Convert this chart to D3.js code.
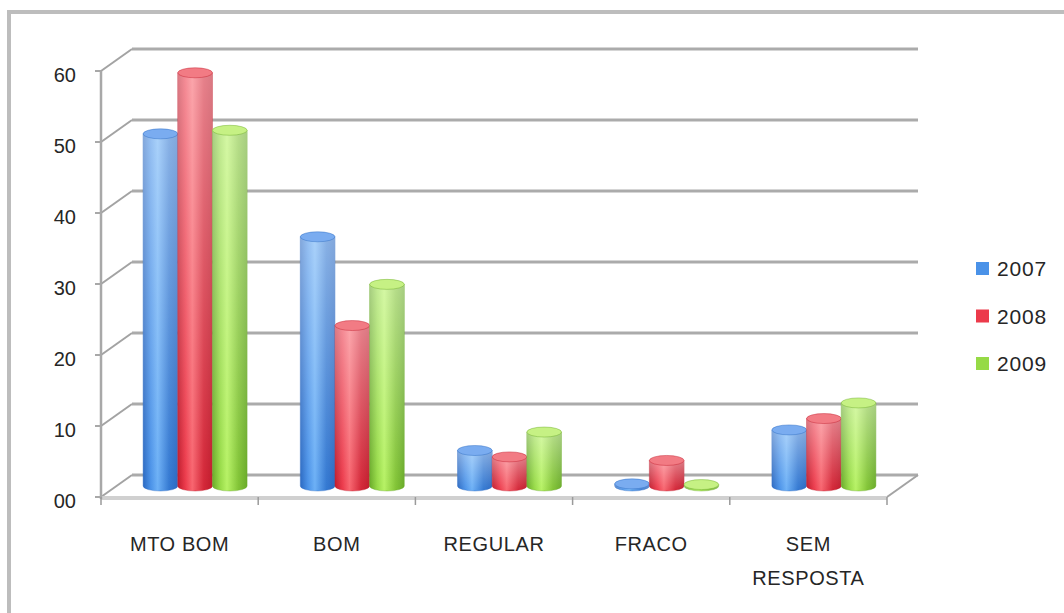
<html><head><title>Avaliação 2007 - 2009</title>
<style>
  body {
    margin: 0;
    background: #fff;
    overflow: hidden;
  }
  svg text {
    font-family: 'Liberation Sans', Arial, sans-serif;
    fill: #262626;
  }
</style>
</head>
<body>
  <svg id="chart" width="1064" height="613"></svg>

  <script src="https://cdnjs.cloudflare.com/ajax/libs/d3/7.8.5/d3.min.js"></script>
  <script>
    // data
    const categories = ['MTO BOM', 'BOM', 'REGULAR', 'FRACO', 'SEM RESPOSTA'];
    const series = ['2007', '2008', '2009'];
    const values2007 = [49.6, 35.1, 5.0, 0.3, 7.9];
    const values2008 = [58.2, 22.6, 4.1, 3.6, 9.5];
    const values2009 = [50.1, 28.4, 7.6, 0.2, 11.7];
    const yTicks = [0, 10, 20, 30, 40, 50, 60];
    const yTickLabels = ['00', '10', '20', '30', '40', '50', '60'];

    const allValues = [values2007, values2008, values2009];

    // colours: [edge, mid, highlight, right side, cap]
    const palette = [
      ['#2a69c2', '#4a92e8', '#6cb0f6', '#3479d2', '#7aacf0'],
      ['#c01b2c', '#ec3a4b', '#f8656f', '#d42738', '#f27b84'],
      ['#69ab28', '#96da46', '#b6f264', '#82c436', '#c6f184']
    ];

    const svg = d3.select('#chart');
    const defs = svg.append('defs');

    // outer frame
    svg.append('rect')
      .attr('x', 9).attr('y', 12)
      .attr('width', 1100).attr('height', 700)
      .attr('fill', 'none')
      .attr('stroke', '#bdbdbd')
      .attr('stroke-width', 4);

    // front plane of the plot + depth offset of the back wall
    const depthX = 31, depthY = -22;
    const y = d3.scaleLinear().domain([0, 60]).range([497, 71]);
    const x0 = d3.scaleBand().domain(categories).range([101, 887]);
    const groupWidth = 104;
    const groupPad = (x0.bandwidth() - groupWidth) / 2;
    const x1 = d3.scaleBand().domain(series).range([0, groupWidth]);

    // back wall gridlines
    const grid = svg.append('g');
    grid.selectAll('line.back')
      .data(yTicks)
      .enter().append('line')
      .attr('x1', 101 + depthX).attr('x2', 887 + depthX)
      .attr('y1', d => y(d) + depthY).attr('y2', d => y(d) + depthY)
      .attr('stroke', '#ababab')
      .attr('stroke-width', 3);

    // side wall diagonals
    grid.selectAll('line.side')
      .data(yTicks)
      .enter().append('line')
      .attr('x1', 101).attr('y1', d => y(d))
      .attr('x2', 101 + depthX).attr('y2', d => y(d) + depthY)
      .attr('stroke', '#a3a3a3')
      .attr('stroke-width', 2);

    // floor right edge
    grid.append('line')
      .attr('x1', 887).attr('y1', y(0))
      .attr('x2', 887 + depthX).attr('y2', y(0) + depthY)
      .attr('stroke', '#a3a3a3')
      .attr('stroke-width', 2);

    // floor front edge
    grid.append('line')
      .attr('x1', 101).attr('x2', 887)
      .attr('y1', y(0) + 1).attr('y2', y(0) + 1)
      .attr('stroke', '#d0d0d0')
      .attr('stroke-width', 4);

    // vertical axis
    grid.append('line')
      .attr('x1', 101).attr('x2', 101)
      .attr('y1', y(60)).attr('y2', y(0) + 2)
      .attr('stroke', '#a8a8a8')
      .attr('stroke-width', 2.5);

    grid.selectAll('line.ytick')
      .data(yTicks)
      .enter().append('line')
      .attr('x1', 95).attr('x2', 101)
      .attr('y1', d => y(d)).attr('y2', d => y(d))
      .attr('stroke', '#a8a8a8')
      .attr('stroke-width', 2);

    // category ticks
    const catEdges = categories.map(c => x0(c)).concat([x0.range()[1]]);
    grid.selectAll('line.xtick')
      .data(catEdges)
      .enter().append('line')
      .attr('x1', d => d).attr('x2', d => d)
      .attr('y1', y(0)).attr('y2', y(0) + 8)
      .attr('stroke', '#9a9a9a')
      .attr('stroke-width', 1.5);

    // y labels
    svg.append('g').selectAll('text')
      .data(yTicks)
      .enter().append('text')
      .attr('x', 76)
      .attr('y', d => y(d) + 6)
      .attr('text-anchor', 'end')
      .attr('dominant-baseline', 'middle')
      .style('font-size', '20px')
      .text((d, i) => yTickLabels[i]);

    // category labels, long ones wrapped on two lines
    const catLabels = svg.append('g').selectAll('text')
      .data(categories)
      .enter().append('text')
      .attr('x', d => x0(d) + x0.bandwidth() / 2)
      .attr('y', 551)
      .attr('text-anchor', 'middle')
      .style('font-size', '20px')
      .style('letter-spacing', '0.6px')
      .text(d => d);

    catLabels.each(function (d) {
      const t = d3.select(this);
      if (this.getComputedTextLength() > 130) {
        const words = d.split(' ');
        t.text(null);
        words.forEach((w, i) => {
          t.append('tspan')
            .attr('x', x0(d) + x0.bandwidth() / 2)
            .attr('dy', i === 0 ? 0 : 34)
            .text(w);
        });
      }
    });

    // gradients
    palette.forEach((p, i) => {
      const g = defs.append('linearGradient')
        .attr('id', 'body' + i)
        .attr('x1', 0).attr('x2', 1).attr('y1', 0).attr('y2', 0);
      g.append('stop').attr('offset', '0%').attr('stop-color', p[0]);
      g.append('stop').attr('offset', '22%').attr('stop-color', p[1]);
      g.append('stop').attr('offset', '42%').attr('stop-color', p[2]);
      g.append('stop').attr('offset', '75%').attr('stop-color', p[3]);
      g.append('stop').attr('offset', '100%').attr('stop-color', p[0]);
    });

    const shine = defs.append('linearGradient')
      .attr('id', 'shine')
      .attr('x1', 0).attr('x2', 0).attr('y1', 0).attr('y2', 1);
    shine.append('stop').attr('offset', '0%').attr('stop-color', '#fff').attr('stop-opacity', 0.42);
    shine.append('stop').attr('offset', '100%').attr('stop-color', '#fff').attr('stop-opacity', 0);

    // cylinders
    const ry = 5;
    const bars = [];
    categories.forEach((c, ci) => {
      series.forEach((s, si) => {
        bars.push({ cat: c, ser: s, si: si, value: allValues[si][ci] });
      });
    });

    const barG = svg.append('g')
      .selectAll('g')
      .data(bars)
      .enter().append('g');

    const geom = d => {
      const xl = x0(d.cat) + groupPad + x1(d.ser) + depthX / 2;
      const w = x1.bandwidth();
      const yb = y(0) + depthY / 2;
      const yt = y(d.value) + depthY / 2;
      return { xl, xr: xl + w, rx: w / 2, yb, yt };
    };

    const bodyPath = d => {
      const g = geom(d);
      return 'M' + g.xl + ',' + g.yt +
        'L' + g.xl + ',' + g.yb +
        'A' + g.rx + ',' + ry + ' 0 0 0 ' + g.xr + ',' + g.yb +
        'L' + g.xr + ',' + g.yt + 'Z';
    };

    barG.append('path')
      .attr('d', bodyPath)
      .attr('fill', d => 'url(#body' + d.si + ')')
      .attr('stroke', d => palette[d.si][0])
      .attr('stroke-opacity', 0.5)
      .attr('stroke-width', 0.8);

    barG.append('path')
      .attr('d', bodyPath)
      .attr('fill', 'url(#shine)');

    barG.append('ellipse')
      .attr('cx', d => { const g = geom(d); return (g.xl + g.xr) / 2; })
      .attr('cy', d => geom(d).yt)
      .attr('rx', d => geom(d).rx)
      .attr('ry', ry)
      .attr('fill', d => palette[d.si][4])
      .attr('stroke', d => palette[d.si][0])
      .attr('stroke-opacity', 0.55)
      .attr('stroke-width', 0.8);

    // legend
    const legend = svg.append('g')
      .selectAll('g')
      .data(series)
      .enter().append('g')
      .attr('transform', (d, i) => 'translate(976,' + (268.5 + i * 47.5) + ')');

    legend.append('rect')
      .attr('x', 0).attr('y', -6.5)
      .attr('width', 13).attr('height', 13)
      .attr('fill', (d, i) => palette[i][1]);

    legend.append('text')
      .attr('x', 21).attr('y', 2)
      .attr('dominant-baseline', 'middle')
      .style('font-size', '21px')
      .style('letter-spacing', '0.8px')
      .text(d => d);
  </script>
</body></html>
